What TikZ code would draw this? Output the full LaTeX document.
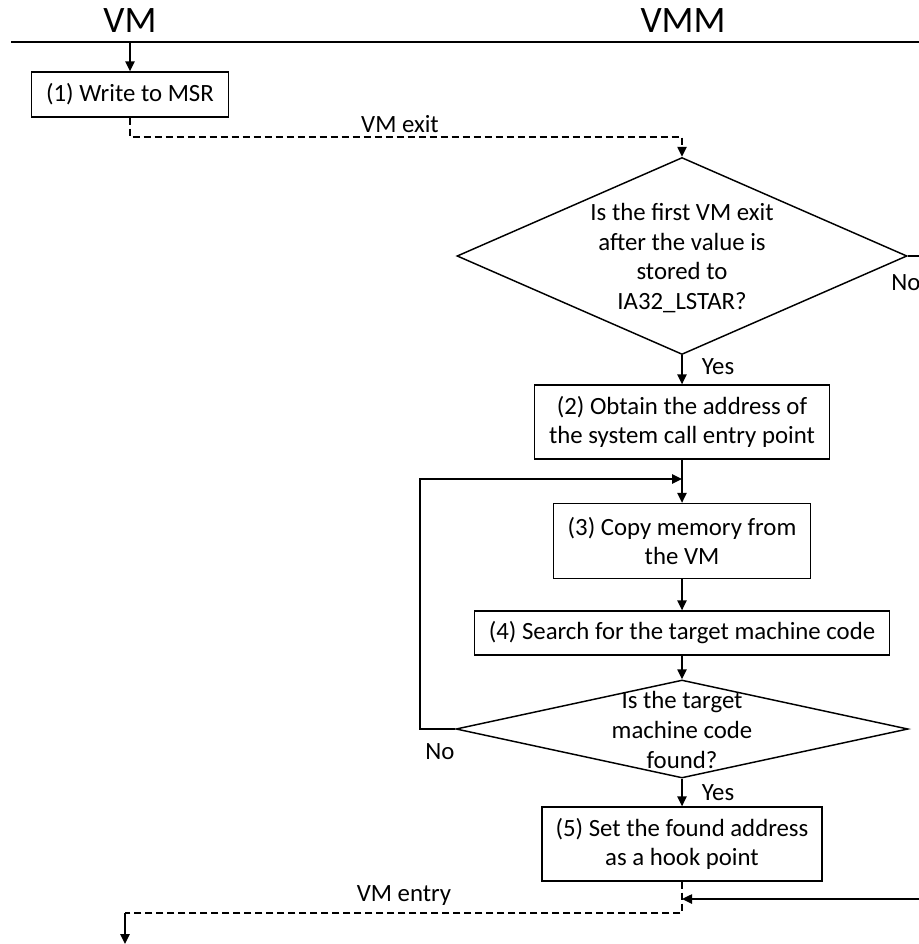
\documentclass[tikz,border=0pt]{standalone}
\usepackage{fontspec}
\setmainfont{Carlito}
\usetikzlibrary{arrows.meta,shapes.geometric}
\begin{document}
\begin{tikzpicture}[x=0.75pt,y=-0.75pt,
  every node/.style={font=\fontsize{18.6pt}{22pt}\selectfont},
  stepbox/.style={draw,line width=1pt,align=center,inner sep=0pt},
  decision/.style={draw,diamond,line width=1.1pt,inner sep=0pt},
  qtext/.style={align=center,inner sep=0pt,font=\fontsize{18.6pt}{22.2pt}\selectfont},
  title/.style={font=\fontsize{28pt}{32pt}\selectfont,anchor=base},
  flow/.style={line width=1.1pt,-{Triangle[length=7.5pt,width=7pt]}},
  vmdash/.style={line width=1.1pt,dash pattern=on 5.25pt off 3pt}]
\clip (0,0) rectangle (919,944);
\useasboundingbox (0,0) rectangle (919,944);

% titles and separator
\node[title] (tvm) at (130,33) {VM};
\node[title] (tvmm) at (683,33) {VMM};
\coordinate (ls) at (11,42);
\coordinate (le) at (919,42);
\coordinate (lvm) at (130,42);
\draw[line width=1.3pt] (ls) -- (le);

% boxes
\node[stepbox,minimum width=147.75pt,minimum height=33.75pt] (b1) at (130,94.5) {(1) Write to MSR};
\node[stepbox,minimum width=221.25pt,minimum height=55.5pt] (b2) at (682,422) {(2) Obtain the address of\\the system call entry point};
\node[stepbox,minimum width=192.75pt,minimum height=56.25pt] (b3) at (682,541) {(3) Copy memory from\\the VM};
\node[stepbox,minimum width=311.25pt,minimum height=33pt] (b4) at (682,633) {(4) Search for the target machine code};
\node[stepbox,minimum width=210pt,minimum height=55.5pt] (b5) at (682,844) {(5) Set the found address\\as a hook point};

% decisions
\node[decision,minimum width=337.5pt,minimum height=147.75pt] (d1) at (682,256) {};
\node[qtext] (q1) at (682,258) {Is the first VM exit\\after the value is\\stored to\\IA32\_LSTAR?};
\node[decision,minimum width=339pt,minimum height=73.5pt] (d2) at (682,729) {};
\node[qtext] (q2) at (682,730) {Is the target\\machine code\\found?};

% labels
\node[anchor=base] (lexit) at (400,133) {VM exit};
\node[anchor=base] (lentry) at (404,901) {VM entry};
\node (y1) at (718,367) {Yes};
\node (y2) at (718,793) {Yes};
\node (n1) at (906,283) {No};
\node (n2) at (440,752) {No};

% coordinates for bends
\coordinate (e1) at (130,137);
\coordinate (r1) at (925,256);
\coordinate (r2) at (925,899);
\coordinate (r3) at (682,899);
\coordinate (lp1) at (420,729);
\coordinate (lp2) at (420,479);
\coordinate (lp3) at (682,479);
\coordinate (x1) at (125,913);
\coordinate (x2) at (125,944);

% connectors
\draw[flow] (lvm) -- (b1.north);
\draw[vmdash] (b1.south) -- (e1) -| ([yshift=7.5pt]d1.north);
\draw[flow] ([yshift=7.6pt]d1.north) -- (d1.north);
\draw[flow] (d1.south) -- (b2.north);
\draw[flow] (b2.south) -- (b3.north);
\draw[flow] (b3.south) -- (b4.north);
\draw[flow] (b4.south) -- (d2.north);
\draw[flow] (d2.south) -- (b5.north);
\draw[flow] (d2.west) -- (lp1) -- (lp2) -- (lp3);
\draw[flow] (d1.east) -- (r1) -- (r2) -- (r3);
\draw[vmdash] (b5.south) |- (x1);
\draw[flow] (x1) -- (x2);
\end{tikzpicture}
\end{document}
